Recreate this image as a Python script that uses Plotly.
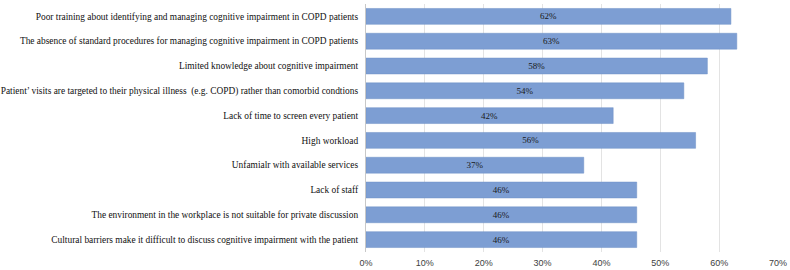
import plotly.graph_objects as go

categories = [
    "Poor training about identifying and managing cognitive impairment in COPD patients",
    "The absence of standard procedures for managing cognitive impairment in COPD patients",
    "Limited knowledge about cognitive impairment",
    "Patient’ visits are targeted to their physical illness  (e.g. COPD) rather than comorbid condtions",
    "Lack of time to screen every patient",
    "High workload",
    "Unfamialr with available services",
    "Lack of staff",
    "The environment in the workplace is not suitable for private discussion",
    "Cultural barriers make it difficult to discuss cognitive impairment with the patient",
]
values = [0.62, 0.63, 0.58, 0.54, 0.42, 0.56, 0.37, 0.46, 0.46, 0.46]
tick_vals = [0, 0.1, 0.2, 0.3, 0.4, 0.5, 0.6, 0.7]
tick_text = ["0%", "10%", "20%", "30%", "40%", "50%", "60%", "70%"]

fig = go.Figure(go.Bar(
    x=values,
    y=categories,
    orientation="h",
    marker=dict(color="#7d9ed3", line=dict(color="#6f90c6", width=0.5)),
    text=[f"{round(v*100)}%" for v in values],
    textposition="inside",
    insidetextanchor="middle",
    textfont=dict(family="Liberation Serif", size=9, color="#1a1a1a"),
    textangle=0,
    hoverinfo="skip",
))

fig.update_layout(
    width=790, height=270,
    margin=dict(l=366, r=12, t=4, b=18),
    paper_bgcolor="white",
    plot_bgcolor="white",
    bargap=0.36,
    showlegend=False,
    uniformtext=dict(minsize=9, mode="show"),
)
fig.update_xaxes(
    range=[0, 0.7],
    tickvals=tick_vals,
    ticktext=tick_text,
    showgrid=True,
    gridcolor="#e3e3e3",
    gridwidth=1,
    zeroline=False,
    showline=False,
    tickfont=dict(family="Liberation Sans", size=9, color="#404040"),
    ticks="outside",
    ticklen=2,
    tickcolor="rgba(0,0,0,0)",
    automargin=False,
)
fig.update_yaxes(
    autorange="reversed",
    showline=True,
    linecolor="#c8c8c8",
    linewidth=1,
    ticks="outside",
    ticklen=5,
    tickcolor="rgba(0,0,0,0)",
    tickfont=dict(family="Liberation Serif", size=9.4, color="#111111"),
    showgrid=False,
    automargin=False,
)

fig.write_html("out.html", config={"displayModeBar": False},
               post_script="document.body.style.margin='0';")
